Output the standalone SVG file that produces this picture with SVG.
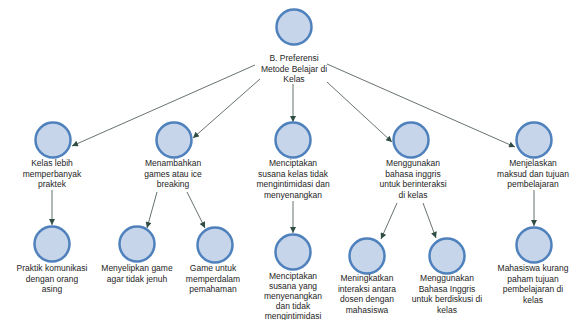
<svg xmlns="http://www.w3.org/2000/svg" width="573" height="320" viewBox="0 0 573 320">
<style>
.n{fill:#c6d5ea;stroke:#4f81bd;stroke-width:2.5}
.t{font-family:"Liberation Sans",Arial,sans-serif;font-size:8.5px;fill:#1e1e1e;text-anchor:middle}
.c{stroke:#56625e;stroke-width:0.9;fill:none;marker-end:url(#ah)}
</style>
<defs>
<marker id="ah" viewBox="0 0 10 10" refX="10" refY="5" markerWidth="7" markerHeight="6" markerUnits="userSpaceOnUse" orient="auto">
<path d="M0,0 L10,5 L0,10 z" fill="#2f4d44"/>
</marker>
</defs>
<rect width="573" height="320" fill="#ffffff"/>
<g id="connectors">
<line class="c" x1="255" y1="65" x2="72" y2="146"/>
<line class="c" x1="260" y1="79" x2="193" y2="138"/>
<line class="c" x1="293" y1="84" x2="293" y2="122"/>
<line class="c" x1="327" y1="82" x2="392" y2="142"/>
<line class="c" x1="327" y1="64" x2="515" y2="147"/>
<line class="c" x1="52" y1="190" x2="52" y2="225"/>
<line class="c" x1="157" y1="192" x2="147" y2="228"/>
<line class="c" x1="187" y1="192" x2="205" y2="228"/>
<line class="c" x1="293" y1="201" x2="293" y2="233"/>
<line class="c" x1="397" y1="203" x2="381" y2="239"/>
<line class="c" x1="423" y1="203" x2="436" y2="238"/>
<line class="c" x1="534" y1="190" x2="534" y2="226"/>
</g>
<g id="root">
<circle class="n" cx="294" cy="27" r="17.5"/>
<text class="t" x="294" y="61">B. Preferensi</text>
<text class="t" x="294" y="71.5">Metode Belajar di</text>
<text class="t" x="294" y="82">Kelas</text>
</g>
<g id="n1">
<circle class="n" cx="53" cy="140" r="17.5"/>
<text class="t" x="52" y="166">Kelas lebih</text>
<text class="t" x="52" y="176.5">memperbanyak</text>
<text class="t" x="52" y="187">praktek</text>
</g>
<g id="n2">
<circle class="n" cx="174" cy="140" r="17.5"/>
<text class="t" x="173" y="166">Menambahkan</text>
<text class="t" x="173" y="176.5">games atau ice</text>
<text class="t" x="173" y="187">breaking</text>
</g>
<g id="n3">
<circle class="n" cx="293" cy="140" r="17.5"/>
<text class="t" x="293" y="166">Menciptakan</text>
<text class="t" x="293" y="176.5">susana kelas tidak</text>
<text class="t" x="293" y="187">mengintimidasi dan</text>
<text class="t" x="293" y="197.5">menyenangkan</text>
</g>
<g id="n4">
<circle class="n" cx="411" cy="140" r="17.5"/>
<text class="t" x="413" y="166">Menggunakan</text>
<text class="t" x="413" y="176.5">bahasa inggris</text>
<text class="t" x="413" y="187">untuk berinteraksi</text>
<text class="t" x="413" y="197.5">di kelas</text>
</g>
<g id="n5">
<circle class="n" cx="534" cy="140" r="17.5"/>
<text class="t" x="533" y="166">Menjelaskan</text>
<text class="t" x="533" y="176.5">maksud dan tujuan</text>
<text class="t" x="533" y="187">pembelajaran</text>
</g>
<g id="n1a">
<circle class="n" cx="52" cy="244" r="17.5"/>
<text class="t" x="52" y="271">Praktik komunikasi</text>
<text class="t" x="52" y="281.5">dengan orang</text>
<text class="t" x="52" y="292">asing</text>
</g>
<g id="n2a">
<circle class="n" cx="137" cy="244" r="17.5"/>
<text class="t" x="137" y="271">Menyelipkan game</text>
<text class="t" x="137" y="281.5">agar tidak jenuh</text>
</g>
<g id="n2b">
<circle class="n" cx="215" cy="245" r="17.5"/>
<text class="t" x="213" y="271">Game untuk</text>
<text class="t" x="213" y="281.5">memperdalam</text>
<text class="t" x="213" y="292">pemahaman</text>
</g>
<g id="n3a">
<circle class="n" cx="293" cy="252" r="17.5"/>
<text class="t" x="293" y="278.5">Menciptakan</text>
<text class="t" x="293" y="288.5">susana yang</text>
<text class="t" x="293" y="298.5">menyenangkan</text>
<text class="t" x="293" y="308.5">dan tidak</text>
<text class="t" x="293" y="318.5">mengintimidasi</text>
</g>
<g id="n4a">
<circle class="n" cx="367" cy="256" r="17.5"/>
<text class="t" x="367" y="281">Meningkatkan</text>
<text class="t" x="367" y="291.5">interaksi antara</text>
<text class="t" x="367" y="302">dosen dengan</text>
<text class="t" x="367" y="312.5">mahasiswa</text>
</g>
<g id="n4b">
<circle class="n" cx="447" cy="256" r="17.5"/>
<text class="t" x="447" y="281">Menggunakan</text>
<text class="t" x="447" y="291.5">Bahasa Inggris</text>
<text class="t" x="447" y="302">untuk berdiskusi di</text>
<text class="t" x="447" y="312.5">kelas</text>
</g>
<g id="n5a">
<circle class="n" cx="534" cy="245" r="17.5"/>
<text class="t" x="533" y="271">Mahasiswa kurang</text>
<text class="t" x="533" y="281.5">paham tujuan</text>
<text class="t" x="533" y="292">pembelajaran di</text>
<text class="t" x="533" y="302.5">kelas</text>
</g>
</svg>
